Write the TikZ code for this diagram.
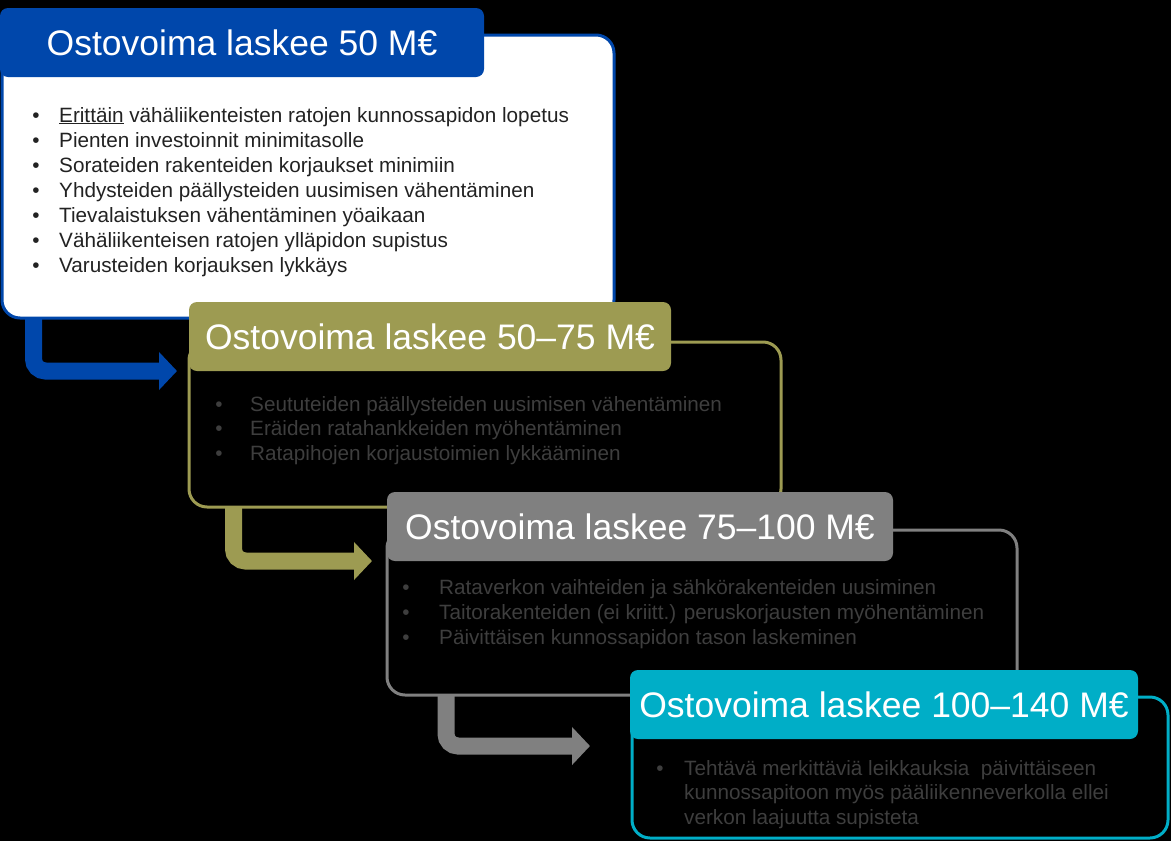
\documentclass[tikz,border=0pt]{standalone}
\usepackage{fontspec}
\setmainfont{Liberation Sans}
\usetikzlibrary{arrows.meta}

\definecolor{tBlue}{RGB}{0,71,171}
\definecolor{tOlive}{RGB}{157,155,82}
\definecolor{tGray}{RGB}{128,128,128}
\definecolor{tTeal}{RGB}{0,174,199}
\definecolor{txtDark}{RGB}{34,34,34}
\definecolor{txtDim}{RGB}{62,62,62}

\begin{document}
\begin{tikzpicture}[x=1pt, y=-1pt,
  every body/.style={draw, rounded corners=18pt, line width=3pt, anchor=north west, inner sep=0pt, outer sep=0pt},
  every title/.style={rounded corners=8pt, inner sep=0pt, outer sep=0pt, anchor=north west, minimum height=69pt, text=white, font=\fontsize{35.5}{40}\selectfont},
  every item/.style={anchor=base west, inner sep=0pt, font=\fontsize{20.7}{24}\selectfont},
  every dot/.style={anchor=base, inner sep=0pt, font=\fontsize{20.7}{24}\selectfont},
  flow arrow/.style={line width=17pt, rounded corners=12pt, -{Triangle[length=18pt, width=37pt]}}]

\fill [black] (0,0) rectangle (1171,841);
\useasboundingbox (0,0) rectangle (1171,841);

\foreach \n/\x/\y/\w/\h/\c/\f in {1/2/35/612/283/tBlue/white, 2/189/342/592/165/tOlive/black,
    3/387/530/630/165/tGray/black, 4/632/697/536/141/tTeal/black}
  \node [every body, draw=\c, fill=\f, minimum width=\w, minimum height=\h] (body-\n) at (\x,\y) {};

\foreach \n/\x/\y/\w/\c/\l in {1/0/8/484/tBlue/50, 2/189/302/482/tOlive/50--75,
    3/387/492/506/tGray/75--100, 4/630/670/508/tTeal/100--140}
  \node [every title, fill=\c, minimum width=\w] (title-\n) at (\x,\y) {Ostovoima laskee \l~M€};

\foreach \i/\j/\c/\s/\dx/\dy in {1/2/tBlue/31.5/-12/0, 2/3/tOlive/44.5/-15/0, 3/4/tGray/59/-40/-7}
  \draw [flow arrow, \c] ([xshift=\s pt]body-\i.south west) |- ([xshift=\dx pt, yshift=\dy pt]title-\j.south west);

\foreach \t [count=\k] in {{\underline{Erittäin} vähäliikenteisten ratojen kunnossapidon lopetus},
    Pienten investoinnit minimitasolle, Sorateiden rakenteiden korjaukset minimiin,
    Yhdysteiden päällysteiden uusimisen vähentäminen, Tievalaistuksen vähentäminen yöaikaan,
    Vähäliikenteisen ratojen ylläpidon supistus, Varusteiden korjauksen lykkäys} {
  \node [every dot, txtDark] (dot-1-\k) at (36, 97+25*\k) {•};
  \node [every item, txtDark] (item-1-\k) at (59, 97+25*\k) {\t};
}

\foreach \t [count=\k] in {Seututeiden päällysteiden uusimisen vähentäminen,
    Eräiden ratahankkeiden myöhentäminen, Ratapihojen korjaustoimien lykkääminen} {
  \node [every dot, txtDim] (dot-2-\k) at (219, 386.5+24.5*\k) {•};
  \node [every item, txtDim] (item-2-\k) at (250, 386.5+24.5*\k) {\t};
}

\foreach \t [count=\k] in {Rataverkon vaihteiden ja sähkörakenteiden uusiminen,
    Taitorakenteiden (ei kriitt.) peruskorjausten myöhentäminen, Päivittäisen kunnossapidon tason laskeminen} {
  \node [every dot, txtDim] (dot-3-\k) at (406, 569+25*\k) {•};
  \node [every item, txtDim] (item-3-\k) at (439, 569+25*\k) {\t};
}

\node [every dot, txtDim] (dot-4-1) at (660, 775) {•};
\foreach \t [count=\k] in {Tehtävä merkittäviä leikkauksia \ päivittäiseen,
    kunnossapitoon myös pääliikenneverkolla ellei, verkon laajuutta supisteta}
  \node [every item, txtDim] (item-4-\k) at (684, 750.5+24.5*\k) {\t};

\end{tikzpicture}
\end{document}
